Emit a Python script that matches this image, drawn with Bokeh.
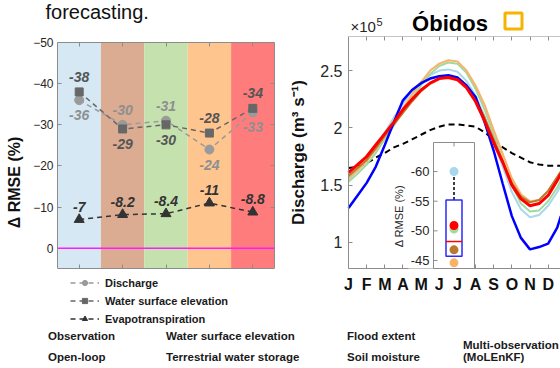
from math import pi
from bokeh.plotting import figure
from bokeh.models import (Range1d, FixedTicker, LinearAxis, Span, Legend, LegendItem)
from bokeh.layouts import row, column
from bokeh.embed import file_html
from bokeh.resources import INLINE
from bokeh.core.properties import value

FONT = "Liberation Sans"
AX = "#8c8c8c"
TXT = "#262626"

# ---------------- left panel data ----------------
categories = ["Water surface elevation", "Terrestrial water storage", "Flood extent",
              "Soil moisture", "Multi-observation"]
band_colors = ["#d5e8f4", "#dbac91", "#c5e2ae", "#ffc58f", "#ff7c7c"]
dis_vals = [-36, -30, -31, -24, -33]
wse_vals = [-38, -29, -30, -28, -34]
et_vals = [-7, -8.2, -8.4, -11, -8.8]
left_ticks = [0, -10, -20, -30, -40, -50]
left_box = (4.9, -50)          # axis limits (bottom, top)

# ---------------- right panel data ----------------
month_pos = [1.0, 1.5, 2.0, 2.5, 3.0, 3.5, 4.0, 4.5, 5.0, 5.5, 6.0, 6.5,
             7.0, 7.5, 8.0, 8.5, 9.0, 9.5, 10.0, 10.5, 11.0, 11.5, 12.0, 12.5, 12.7]
month_ticks = [1, 2, 3, 4, 5, 6, 7, 8, 9, 10, 11, 12]
month_labels = ["J", "F", "M", "A", "M", "J", "J", "A", "S", "O", "N", "D"]
q_obs = [1.30, 1.41, 1.52, 1.66, 1.85, 2.05, 2.24, 2.33, 2.39, 2.43, 2.45, 2.46,
         2.44, 2.37, 2.27, 2.05, 1.80, 1.51, 1.23, 1.04, 0.94, 0.96, 0.99, 1.13, 1.23]
q_ol = [1.65, 1.66, 1.69, 1.74, 1.78, 1.83, 1.86, 1.90, 1.94, 1.98, 2.01, 2.03,
        2.03, 2.02, 2.01, 1.96, 1.90, 1.83, 1.78, 1.74, 1.70, 1.68, 1.67, 1.67, 1.67]
q_wse = [1.55, 1.63, 1.72, 1.83, 1.96, 2.09, 2.21, 2.32, 2.40, 2.46, 2.50, 2.51,
         2.49, 2.41, 2.28, 2.10, 1.88, 1.66, 1.44, 1.29, 1.22, 1.24, 1.32, 1.44, 1.50]
q_fe = [1.53, 1.60, 1.68, 1.78, 1.90, 2.02, 2.14, 2.26, 2.37, 2.47, 2.54, 2.57,
        2.56, 2.48, 2.34, 2.16, 1.94, 1.72, 1.50, 1.34, 1.27, 1.28, 1.36, 1.48, 1.54]
q_sm = [1.56, 1.63, 1.71, 1.81, 1.93, 2.05, 2.17, 2.29, 2.40, 2.50, 2.56, 2.59,
        2.58, 2.50, 2.37, 2.20, 1.98, 1.77, 1.56, 1.42, 1.36, 1.37, 1.45, 1.57, 1.62]
q_tws = [1.58, 1.65, 1.72, 1.82, 1.93, 2.03, 2.13, 2.23, 2.32, 2.39, 2.43, 2.45,
         2.44, 2.37, 2.25, 2.09, 1.90, 1.70, 1.52, 1.40, 1.35, 1.37, 1.45, 1.57, 1.62]
q_multi = [1.61, 1.68, 1.75, 1.85, 1.95, 2.05, 2.16, 2.25, 2.33, 2.39, 2.43, 2.44,
           2.42, 2.35, 2.23, 2.06, 1.87, 1.70, 1.50, 1.38, 1.32, 1.34, 1.41, 1.54, 1.60]
right_ticks = [1, 1.5, 2, 2.5]
right_tick_labels = ["1", "1.5", "2", "2.5"]
right_box = (0.773, 2.797)     # axis limits (bottom, top)
right_xlim = (1, 12.68)        # axis limits (left, right)

# ---------------- inset data ----------------
inset_vals = [-60, -50.3, -50.9, -46.8, -44.6]   # WSE, flood, multi, TWS, SM
inset_colors = ["#a8d8ea", "#a3d99e", "#ff0000", "#b87a30", "#f9b26a"]
box_top, box_bottom, box_median, whisker_end = -55.2, -45.7, -48.2, -60
inset_ticks = [-60, -55, -50, -45]
inset_ylim = (-43.65, -64.9)   # bottom, top

C_OBS, C_WSE, C_FE, C_TWS, C_SM, C_MULTI = "#0000ff", "#a8d8ea", "#a3d99e", "#b87a30", "#f9b26a", "#ff0000"

def hide_labels(ax):
    ax.major_label_text_font_size = "1px"
    ax.major_label_text_color = None
    ax.major_label_standoff = 0

def style_axis(ax):
    ax.axis_line_color = AX
    ax.major_tick_line_color = AX
    ax.major_tick_in = 4
    ax.major_tick_out = 0
    ax.minor_tick_line_color = None
    ax.major_label_text_font = FONT
    ax.major_label_text_color = TXT

# pixel layout of the page
S_H = 36                             # top strip (titles)
FRAME_TOP, FRAME_BOT = S_H, 328      # plot frames (shared by both panels)
L_BOX = (42, 268)                    # left box top / bottom (px)
R_BOX = (36, 268)                    # right box top / bottom (px)
ROW_H = FRAME_BOT - S_H
B_H = 368 - FRAME_BOT
L_W = 290
R_LEFT, R_AXIS, R_RIGHT = 290, 348, 560

def extended_range(box, box_px):
    """Range whose 'box' part maps to box_px and which extends to the whole frame."""
    per = (box_px[1] - box_px[0]) / (box[0] - box[1])
    return Range1d(box[0] + (FRAME_BOT - box_px[1]) / per, box[1] - (box_px[0] - FRAME_TOP) / per)

# ================= TOP STRIP (titles) =================
S = figure(width=560, height=S_H, x_range=Range1d(0, 560), y_range=Range1d(S_H, 0),
           output_backend="svg", toolbar_location=None, min_border=0,
           x_axis_location=None, y_axis_location=None)
S.outline_line_color = None
S.grid.visible = False
S.text(x=[45], y=[11], text=["forecasting."], text_font=value(FONT), text_font_size="20px",
       text_color="#111111", text_baseline="middle")
S.text(x=[449.5], y=[22.5], text=["Óbidos"], text_font=value(FONT), text_font_size="22px",
       text_font_style="bold", text_color="black", text_align="center", text_baseline="middle")
S.text(x=[350], y=[26], text=["×10"], text_font=value(FONT), text_font_size="15px",
       text_color=TXT, text_baseline="middle")
S.text(x=[376], y=[21], text=["5"], text_font=value(FONT), text_font_size="11px",
       text_color=TXT, text_baseline="middle")
S.quad(left=[504.5], right=[521.5], top=[12.5], bottom=[28.5], fill_alpha=0,
       line_color="#f5b400", line_width=3)

# ================= LEFT FIGURE =================
n = len(categories)
xc = list(range(1, n + 1))
L = figure(width=L_W, height=ROW_H, x_range=Range1d(0.5, n + 0.5),
           y_range=extended_range(left_box, L_BOX),
           output_backend="svg", toolbar_location=None,
           min_border_left=57, min_border_right=16, min_border_top=0, min_border_bottom=0)
L.grid.visible = False
L.outline_line_color = None

L.vbar(x=xc, width=1, bottom=left_box[0], top=left_box[1], fill_color=band_colors, line_color=None)
L.add_layout(Span(location=0, dimension="width", line_color="#ff1aff", line_width=1.5))

specs = [("Discharge", dis_vals, "#9a9a9a", "circle", 9),
         ("Water surface elevation", wse_vals, "#676767", "square", 8),
         ("Evapotranspiration", et_vals, "#333333", "triangle", 10)]
items = []
for name, vals, col, mk, sz in specs:
    lr = L.line(xc, vals, line_color=col, line_width=1.5, line_dash="5 4")
    sr = L.scatter(xc, vals, marker=mk, size=sz, fill_color=col, line_color=col)
    items.append(LegendItem(label=name, renderers=[lr, sr]))

above = [d < w for d, w in zip(dis_vals, wse_vals)]
OFF = 15
tkw = dict(text_font=value(FONT), text_font_size="14px", text_font_style="bold italic",
           text_align="center", text_baseline="middle")
L.text(x=xc, y=dis_vals, text=[f"{v:g}" for v in dis_vals],
       y_offset=[-OFF if a else OFF for a in above], text_color="#8f8f8f", **tkw)
L.text(x=xc, y=wse_vals, text=[f"{v:g}" for v in wse_vals],
       y_offset=[OFF if a else -OFF for a in above], text_color="#555555", **tkw)
L.text(x=xc, y=et_vals, text=[f"{v:g}" for v in et_vals],
       y_offset=[-13] * n, text_color="#333333", **tkw)

lbounds = (min(left_box), max(left_box))
ya = L.yaxis[0]
style_axis(ya)
ya.bounds = lbounds
ya.ticker = FixedTicker(ticks=left_ticks)
ya.major_label_text_font_size = "12px"
ya.major_label_standoff = 4
ya.axis_label = "Δ RMSE (%)"
ya.axis_label_text_font = FONT
ya.axis_label_text_font_size = "16px"
ya.axis_label_text_font_style = "bold"
ya.axis_label_text_color = "#111111"
ya.axis_label_standoff = 7

xa = L.xaxis[0]
style_axis(xa)
xa.ticker = FixedTicker(ticks=xc)
xa.fixed_location = left_box[0]
hide_labels(xa)

ax_top = LinearAxis(ticker=FixedTicker(ticks=xc), fixed_location=left_box[1])
style_axis(ax_top)
hide_labels(ax_top)
L.add_layout(ax_top, "above")
ax_r = LinearAxis(ticker=FixedTicker(ticks=left_ticks), bounds=lbounds)
style_axis(ax_r)
hide_labels(ax_r)
L.add_layout(ax_r, "right")

leg = Legend(items=items, location=(13, 3), orientation="vertical",
             glyph_width=29, glyph_height=13, label_height=13, label_standoff=6,
             spacing=5, padding=0, margin=0, border_line_color=None,
             background_fill_alpha=0, label_text_font=FONT, label_text_font_size="11px",
             label_text_font_style="bold", label_text_color="#1a1a1a")
L.add_layout(leg, "center")

# ================= RIGHT FIGURE =================
px_per_month = (R_RIGHT - R_AXIS) / (right_xlim[1] - right_xlim[0])
R = figure(width=R_RIGHT - R_LEFT, height=ROW_H,
           x_range=Range1d(right_xlim[0] - (R_AXIS - R_LEFT) / px_per_month, right_xlim[1]),
           y_range=extended_range(right_box, R_BOX),
           output_backend="svg", toolbar_location=None,
           min_border_left=0, min_border_right=0, min_border_top=0, min_border_bottom=0)
R.grid.visible = False
R.outline_line_color = None

R.line(month_pos, q_ol, line_color="black", line_width=2, line_dash="6 4")
for vals, col, w in [(q_wse, C_WSE, 2), (q_fe, C_FE, 2), (q_sm, C_SM, 2),
                     (q_tws, C_TWS, 2), (q_obs, C_OBS, 2.5), (q_multi, C_MULTI, 3)]:
    R.line(month_pos, vals, line_color=col, line_width=w)

ry = R.yaxis[0]
style_axis(ry)
ry.fixed_location = right_xlim[0]
ry.bounds = right_box
ry.ticker = FixedTicker(ticks=right_ticks)
ry.major_label_overrides = dict(zip(right_ticks, right_tick_labels))
ry.major_label_text_font_size = "16px"
ry.major_label_standoff = 6
ry.axis_label = "Discharge (m³ s⁻¹)"
ry.axis_label_text_font = FONT
ry.axis_label_text_font_size = "17px"
ry.axis_label_text_font_style = "bold"
ry.axis_label_text_color = "#111111"
ry.axis_label_standoff = 9

rx = R.xaxis[0]
style_axis(rx)
rx.fixed_location = right_box[0]
rx.bounds = right_xlim
rx.ticker = FixedTicker(ticks=month_ticks)
rx.major_label_overrides = dict(zip(month_ticks, month_labels))
rx.major_label_text_font_size = "16px"
rx.major_label_text_font_style = "bold"
rx.major_label_text_color = "#111111"
rx.major_label_standoff = 7

top = LinearAxis(ticker=FixedTicker(ticks=month_ticks), bounds=right_xlim,
                 fixed_location=right_box[1])
style_axis(top)
hide_labels(top)
R.add_layout(top, "above")

# ---- inset (box plot) mapped into the frame through extra ranges
fl, fr = R_LEFT, R_RIGHT                   # frame edges (px)
il, ir, it, ib = 433, 474, 142, R_BOX[1]   # inset edges (px)
ux = (ir - il) / 1.0
uy = (ib - it) / (inset_ylim[0] - inset_ylim[1])
R.extra_x_ranges = {"ins": Range1d(0.5 - (il - fl) / ux, 1.5 + (fr - ir) / ux)}
R.extra_y_ranges = {"ins": Range1d(inset_ylim[0] + (FRAME_BOT - ib) / uy,
                                   inset_ylim[1] - (it - FRAME_TOP) / uy)}
kw = dict(x_range_name="ins", y_range_name="ins", level="overlay")
R.quad(left=[0.5 - 25 / ux], right=[1.5], top=[inset_ylim[1]], bottom=[inset_ylim[0]],
       fill_color="white", line_color=None, **kw)
R.quad(left=[0.5], right=[1.5], top=[inset_ylim[1]], bottom=[inset_ylim[0]],
       fill_alpha=0, line_color=AX, line_width=1, **kw)
R.segment(x0=[0.5] * len(inset_ticks), x1=[0.5 + 4 / ux] * len(inset_ticks),
          y0=inset_ticks, y1=inset_ticks, line_color=AX, **kw)
R.segment(x0=[1], x1=[1], y0=[inset_ylim[1]], y1=[inset_ylim[1] + 4 / uy], line_color=AX, **kw)
R.text(x=[0.5] * len(inset_ticks), y=inset_ticks, text=[f"{t:g}" for t in inset_ticks],
       x_offset=-4, text_align="right", text_baseline="middle", text_font=value(FONT),
       text_font_size="13px", text_color=TXT, **kw)
R.text(x=[0.5], y=[sum(inset_ticks) / len(inset_ticks)], text=["Δ RMSE (%)"], angle=pi / 2,
       x_offset=-35, text_align="center", text_baseline="middle", text_font=value(FONT),
       text_font_size="11px", text_color=TXT, **kw)
R.segment(x0=[1], x1=[1], y0=[box_top], y1=[whisker_end], line_color="black",
          line_width=1.5, line_dash="3 2", **kw)
bw = 8 / ux
R.quad(left=[1 - bw], right=[1 + bw], top=[box_top], bottom=[box_bottom], fill_alpha=0,
       line_color="#2b2bff", line_width=1.5, **kw)
R.segment(x0=[1 - bw], x1=[1 + bw], y0=[box_median], y1=[box_median], line_color="red",
          line_width=1.5, **kw)
R.scatter(x=[1] * len(inset_vals), y=inset_vals, size=9, fill_color=inset_colors,
          line_color=None, **kw)

# ================= BOTTOM LEGEND =================
B = figure(width=560, height=B_H, x_range=Range1d(0, 1), y_range=Range1d(0, 1),
           output_backend="svg", toolbar_location=None, min_border=0,
           x_axis_location=None, y_axis_location=None)
B.outline_line_color = None
B.grid.visible = False

def e(**k):
    return B.line(x=[], y=[], **k)

r_obs = [e(line_color=C_OBS, line_width=2.5)]
r_ol = [e(line_color="#555555", line_width=8), e(line_color="black", line_width=3, line_dash="5 2")]
r_wse = [e(line_color=C_WSE, line_width=9), e(line_color="white", line_width=1.2)]
r_tws = [e(line_color=C_TWS, line_width=9), e(line_color="white", line_width=1.2)]
r_fe = [e(line_color=C_FE, line_width=9), e(line_color="white", line_width=1.2)]
r_sm = [e(line_color=C_SM, line_width=9), e(line_color="white", line_width=1.2)]
r_mu = [e(line_color=C_MULTI, line_width=10), e(line_color="white", line_width=1.5)]

lkw = dict(glyph_width=23, glyph_height=10, label_height=14, label_standoff=5, spacing=7,
           padding=0, margin=0, border_line_color=None, background_fill_alpha=0,
           label_text_font=FONT, label_text_font_size="11.5px", label_text_font_style="bold",
           label_text_color="#1a1a1a")
cols = [(20, [("Observation", r_obs), ("Open-loop", r_ol)]),
        (138, [("Water surface elevation", r_wse), ("Terrestrial water storage", r_tws)]),
        (319, [("Flood extent", r_fe), ("Soil moisture", r_sm)])]
for xloc, its in cols:
    B.add_layout(Legend(items=[LegendItem(label=a, renderers=b) for a, b in its],
                        location=(xloc, 4), **lkw))
B.add_layout(Legend(items=[LegendItem(label="Multi-observation\n(MoLEnKF)", renderers=r_mu)],
                    location=(435, 5), **lkw))

layout = column(S, row(L, R), B)
open("out.html", "w").write(file_html(layout, INLINE))
